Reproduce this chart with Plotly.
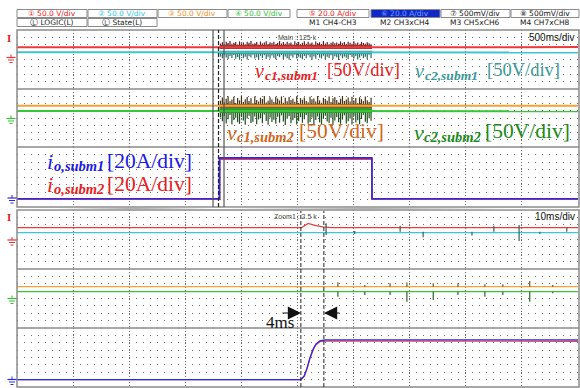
import plotly.graph_objects as go

W, H = 580, 388

# ---------------- data ----------------
main_t_range = [0.0, 5.0]      # s  (500 ms/div, 10 div)
zoom_t_range = [0.0, 100.0]    # ms (10 ms/div, 10 div)
volt_range = [-200, 200]       # 50 V/div
amp_range = [-20, 140]         # 20 A/div

# main window (500 ms/div)
main_level_t = [0.0, 5.0]
vc1_subm1_main = [83, 84]
vc2_subm1_main = [49, 48]
vc1_subm2_main = [85, 85]
vc2_subm2_main = [48, 47]

io_main_t = [0.0, 1.805, 1.806, 3.163, 3.164, 5.0]
io_subm1_main = [2, 2, 111, 111, 2, 2]
io_subm2_main = [1, 1, 108, 108, 1, 1]

burst_t = [1.805, 3.164]
vc1_subm1_band = [71, 98]
vc2_subm1_band = [37, 60]
vc1_subm2_band = [69, 97]
vc2_subm2_band = [34, 69]

vc1_subm1_peaks = [108, 117, 103, 121, 112, 125, 106, 114, 119, 102, 123, 110, 116, 104, 120, 113,
                   126, 107, 111, 118, 101, 122, 109, 115, 124, 105, 117, 112, 120, 103, 114, 125,
                   108, 119, 106, 121, 111, 116, 102, 123, 110, 118, 104, 113, 124, 107, 120, 109,
                   115, 101, 122, 112, 117, 105, 125, 108, 119, 103, 114, 121, 110, 116, 106, 123,
                   111, 118, 104, 120, 113, 107, 124, 109, 115, 102, 119, 112, 106, 117, 110, 103]
vc2_subm1_peaks = [20, 8, 28, 14, 2, 24, 11, 31, 5, 17, -2, 26, 9, 19, 0, 22, 13, 33, 6, 15,
                   -3, 25, 10, 29, 3, 18, 7, 27, 12, 1, 23, 16, 30, 4, 21, 8, -1, 26, 14, 32,
                   6, 19, 11, 2, 24, 9, 28, 15, -2, 20, 5, 31, 13, 7, 25, 1, 18, 10, 29, 3,
                   22, 16, -3, 27, 8, 20, 12, 4, 30, 17, 6, 23, 0, 14, 26, 9, 19, 2, 33, 11]
vc1_subm2_peaks = [120, 141, 108, 133, 150, 115, 127, 146, 104, 138, 122, 152, 111, 130, 144, 117,
                   136, 102, 148, 125, 113, 140, 131, 151, 107, 119, 143, 128, 110, 147, 134, 121,
                   149, 106, 139, 116, 145, 124, 132, 112, 150, 103, 137, 126, 142, 118, 109, 146,
                   129, 135, 114, 151, 122, 105, 140, 131, 119, 148, 111, 136, 144, 125, 107, 133,
                   152, 117, 128, 141, 113, 147, 121, 138, 104, 143, 130, 116, 149, 123, 110, 139]
vc2_subm2_peaks = [5, -22, 14, -38, -8, 20, -45, -14, 2, -30, -41, 9, -18, -47, -4, 16, -34, -26,
                   11, -43, -10, -2, -36, 24, -20, -46, 4, -28, -12, -40, 8, -32, 18, -24, -48, -6,
                   12, -37, -16, 0, -44, -21, 6, -33, -9, 21, -39, -27, 3, -46, -13, 10, -30, -42,
                   -5, 15, -24, -35, 1, -47, -17, 7, -29, -40, -11, 19, -38, -23, -3, -45, 13, -31,
                   -15, -43, -7, 22, -26, -36, -1, -19]

zoom_box_t = [1.747, 1.796, 1.845]

# zoom window (10 ms/div)
vc1_subm1_zoom_t = [0, 50.7, 51.9, 53.1, 54.5, 56.0, 100]
vc1_subm1_zoom = [80, 80, 109, 95, 86, 80, 80]
vc2_subm1_zoom_t = [0, 100]
vc2_subm1_zoom = [46, 46]
vc1_subm2_zoom_t = [0, 50.7, 53.0, 55.0, 100]
vc1_subm2_zoom = [80, 80, 75, 80, 80]
vc2_subm2_zoom_t = [0, 100]
vc2_subm2_zoom = [46, 46]

subm1_spike_t = [55.1, 60.2, 68.3, 72.4, 81.1, 85.0, 89.5, 93.2, 98.0]
subm1_spike_hi = [110, 58, 94, 53, 53, 94, 98, 53, 80]
subm1_spike_lo = [30, 37, 53, 15, 27, 53, -10, 37, 53]
subm2_spike_t = [57.2, 62.0, 66.5, 69.5, 74.2, 78.6, 83.4, 86.6, 91.4, 95.5]
subm2_spike_hi = [110, 92, 103, 108, 103, 103, 96, 96, 119, 92]
subm2_spike_lo = [12, 24, 24, -22, -10, 24, 12, 24, -22, 35]

io_zoom_t = [0, 50.6, 51.2, 51.7, 52.2, 52.8, 53.3, 54.0, 54.9, 100]
io_subm1_zoom = [0, 0, 10, 31, 58, 83, 97, 105, 108, 108]
io_subm2_zoom = [0, 0, 9, 30, 57, 82, 95, 103, 105, 104]

cursor_t = [50.6, 54.7]

# ---------------- styling ----------------
RED = "#ee3a3a"
CYAN = "#3cc6d0"
ORANGE = "#f5a234"
GREEN = "#34c834"
BLUE = "#2a2ae6"
IRED = "#e8405a"
FRAME = "#8a8a8a"
GRID = "#6a6a6a"

panels_px = [(30, 89), (89, 147), (147, 207), (210, 269), (269, 328), (328, 387)]
X0, X1 = 17, 578


def px(x):
    return x / W


def py(y):
    return 1 - y / H


fig = go.Figure()
layout = dict(width=W, height=H, margin=dict(l=0, r=0, t=0, b=0),
              paper_bgcolor="white", plot_bgcolor="white", showlegend=False)

for i, (top, bot) in enumerate(panels_px):
    n = i + 1
    main = i < 3
    cur = i in (2, 5)
    xa = dict(domain=[px(X0), px(X1)], range=main_t_range if main else zoom_t_range,
              anchor=f"y{n}", showticklabels=False, ticks="", zeroline=False,
              showgrid=True, gridcolor=GRID, gridwidth=1, griddash="1px,2px",
              tick0=0, dtick=0.5 if main else 10, showline=False, fixedrange=True)
    ya = dict(domain=[py(bot), py(top)], range=amp_range if cur else volt_range,
              anchor=f"x{n}", showticklabels=False, ticks="", zeroline=False,
              showgrid=True, gridcolor=GRID, gridwidth=1, griddash="1px,6px",
              tick0=amp_range[0] if cur else volt_range[0], dtick=20 if cur else 50,
              showline=False, fixedrange=True)
    layout["xaxis" if n == 1 else f"xaxis{n}"] = xa
    layout["yaxis" if n == 1 else f"yaxis{n}"] = ya


def add(x, y, color, width, n, fill=None, fillcolor=None):
    fig.add_trace(go.Scatter(x=x, y=y, mode="lines", line=dict(color=color, width=width),
                             xaxis="x" if n == 1 else f"x{n}", yaxis="y" if n == 1 else f"y{n}",
                             fill=fill, fillcolor=fillcolor, hoverinfo="skip",
                             connectgaps=False))


def band(lims, n, color):
    add([burst_t[0], burst_t[1], burst_t[1], burst_t[0], burst_t[0]],
        [lims[0], lims[0], lims[1], lims[1], lims[0]], color, 0, n, fill="toself", fillcolor=color)


def spikes(peaks, base, n, color, width=1):
    k = len(peaks)
    dt = (burst_t[1] - burst_t[0]) / k
    xs, ys = [], []
    for j, p in enumerate(peaks):
        t = burst_t[0] + (j + 0.5) * dt
        xs += [t, t, None]
        ys += [base, p, None]
    add(xs, ys, color, width, n)


# ---- main window traces ----
band(vc1_subm1_band, 1, "#a83232")
band(vc2_subm1_band, 1, "#3a8e8a")
spikes(vc1_subm1_peaks, vc1_subm1_band[1], 1, "#5a1e1e", 1.2)
spikes(vc2_subm1_peaks, vc2_subm1_band[0], 1, "#2a6a60", 1.2)
add(main_level_t, vc2_subm1_main, CYAN, 2, 1)
add(main_level_t, vc1_subm1_main, RED, 2, 1)

band(vc1_subm2_band, 2, "#8a5a28")
band(vc2_subm2_band, 2, "#2c9a2c")
spikes(vc1_subm2_peaks, vc1_subm2_band[1], 2, "#46300f", 1.2)
spikes(vc2_subm2_peaks, vc2_subm2_band[0], 2, "#1e4e1e", 1.2)
add(main_level_t, vc2_subm2_main, GREEN, 2, 2)
add(main_level_t, vc1_subm2_main, ORANGE, 2, 2)

add(io_main_t, io_subm2_main, IRED, 1.8, 3)
add(io_main_t, io_subm1_main, BLUE, 1.6, 3)

# ---- zoom window traces ----
add(vc1_subm1_zoom_t, vc1_subm1_zoom, RED, 1.3, 4)
add(vc2_subm1_zoom_t, vc2_subm1_zoom, CYAN, 1.3, 4)
sx, sy = [], []
for t, hi, lo in zip(subm1_spike_t, subm1_spike_hi, subm1_spike_lo):
    sx += [t, t, None]
    sy += [hi, lo, None]
add(sx, sy, "#2a6464", 1.2, 4)

add(vc1_subm2_zoom_t, vc1_subm2_zoom, ORANGE, 1.3, 5)
add(vc2_subm2_zoom_t, vc2_subm2_zoom, GREEN, 1.3, 5)
ox, oy, gx, gy = [], [], [], []
for t, hi, lo in zip(subm2_spike_t, subm2_spike_hi, subm2_spike_lo):
    ox += [t, t, None]
    oy += [80, hi, None]
    gx += [t, t, None]
    gy += [46, lo, None]
add(ox, oy, "#7a5418", 1.2, 5)
add(gx, gy, "#2a6a2a", 1.2, 5)

add(io_zoom_t, io_subm2_zoom, IRED, 1.4, 6)
add(io_zoom_t, io_subm1_zoom, BLUE, 1.2, 6)

# ---------------- shapes ----------------
shapes = []


def pline(x0, y0, x1, y1, color=FRAME, width=1.5, dash="solid"):
    shapes.append(dict(type="line", xref="paper", yref="paper", x0=px(x0), y0=py(y0),
                       x1=px(x1), y1=py(y1), line=dict(color=color, width=width, dash=dash)))


def prect(x0, y0, x1, y1, color, width=1, fill="rgba(0,0,0,0)"):
    shapes.append(dict(type="rect", xref="paper", yref="paper", x0=px(x0), x1=px(x1),
                       y0=py(y1), y1=py(y0), line=dict(color=color, width=width), fillcolor=fill,
                       layer="below"))


# header capsules
hdr_boxes = [(17, 87), (88, 157), (158, 227), (228, 290), (297, 369), (371, 440), (441, 510), (511, 579)]
for j, (a, b) in enumerate(hdr_boxes):
    prect(a, 9.5, b, 17.5, "#8a8a8a", 1, "#1028c8" if j == 5 else "rgba(0,0,0,0)")
for a, b in [(17, 87), (88, 157)]:
    prect(a, 18.5, b, 26.5, "#8a8a8a", 1)

# frames
for (t0, b0) in [(30, 207), (210, 387)]:
    shapes.append(dict(type="rect", xref="paper", yref="paper", x0=px(X0), x1=px(X1 + 1),
                       y0=py(b0), y1=py(t0), line=dict(color=FRAME, width=1.5)))
for y in (89, 147, 269, 328):
    pline(X0, y, X1 + 1, y)
# zoom connector lines
pline(X0, 210, 213, 207.5, color="#b0b0b0", width=1)
pline(223, 207.5, X1, 210, color="#b0b0b0", width=1)

# zoom box in main window
for t, dash, col in [(zoom_box_t[0], "solid", "#555555"), (zoom_box_t[2], "solid", "#555555"),
                     (zoom_box_t[1], "4px,2px", "#222222")]:
    shapes.append(dict(type="line", xref="x", yref="paper", x0=t, x1=t, y0=py(207), y1=py(30),
                       line=dict(color=col, width=1.2, dash=dash)))
# cursors in zoom window
for t in cursor_t:
    shapes.append(dict(type="line", xref="x4", yref="paper", x0=t, x1=t, y0=py(387), y1=py(211),
                       line=dict(color="#222222", width=1, dash="4px,2px")))


def ground(x, y, color):
    pline(x, y - 3, x, y, color, 1)
    pline(x - 4.5, y, x + 4.5, y, color, 1.2)
    pline(x - 3, y + 2.5, x + 3, y + 2.5, color, 1)
    pline(x - 1.5, y + 5, x + 1.5, y + 5, color, 1)


ground(11, 57.5, "#e83030")
ground(11, 118.5, "#30c030")
ground(12, 198, "#2a2ae6")
ground(12, 240, "#e83030")
ground(12, 298.5, "#30c030")
ground(12, 379.5, "#2a2ae6")

layout["shapes"] = shapes

# ---------------- annotations ----------------
ann = []


def text(x, y, s, size, color, family="Liberation Sans", xanchor="left", **kw):
    ann.append(dict(x=px(x), y=py(y), xref="paper", yref="paper", text=s, showarrow=False,
                    xanchor=xanchor, yanchor="middle", font=dict(size=size, color=color, family=family),
                    **kw))


# header texts
hdr1 = [(52, "① 50.0 V/div", "#e82020"), (122, "② 50.0 V/div", "#30c8e0"),
        (192, "③ 50.0 V/div", "#f59020"), (259, "④ 50.0 V/div", "#30c030"),
        (333, "⑤ 20.0 A/div", "#e82020"), (405, "⑥ 20.0 A/div", "#6fa0ff"),
        (475, "⑦ 500mV/div", "#111111"), (545, "⑧ 500mV/div", "#111111")]
for x, s, c in hdr1:
    text(x, 13.5, s, 7.5, c, family="DejaVu Sans", xanchor="center")
hdr2 = [(52, "Ⓛ LOGIC(L)"), (122, "Ⓛ State(L)"), (333, "M1 CH4-CH3"), (405, "M2 CH3xCH4"),
        (475, "M3 CH5xCH6"), (545, "M4 CH7xCH8")]
for x, s in hdr2:
    text(x, 22.5, s, 7.5, "#222222", family="DejaVu Sans", xanchor="center")

text(276, 37.5, "Main : 125 k", 7, "#444444")
text(577, 37.5, "500ms/div", 10, "#111111", xanchor="right")
text(272, 216.5, "Zoom1 : 2.5 k", 7, "#444444")
text(577, 216.5, "10ms/div", 10, "#111111", xanchor="right")

SER = "Liberation Serif"
# (x of symbol, y, symbol, subscript, x of bracket, colour, size of symbol, size of sub, size of bracket)
math_labels = [
    (253, 71, "v", "c1,subm1", 325, "#e82020", 20, 13.5, 18.5),
    (413, 71, "v", "c2,subm1", 485, "#3a9898", 20, 13.5, 18.5),
    (225, 132, "v", "c1,subm2", 297, "#d0661c", 22, 14.5, 21.5),
    (412, 132, "v", "c2,subm2", 483, "#1a8a1a", 22, 14.5, 21.5),
    (45, 161.5, "i", "o,subm1", 105, "#1a1ae6", 22, 14.5, 21.5),
    (45, 184.5, "i", "o,subm2", 105, "#e82020", 22, 14.5, 21.5),
]
bracket_text = {"v": "[50V/div]", "i": "[20A/div]"}
for x, y, sym, sub, xb, col, s1, s2, s3 in math_labels:
    text(x, y, f"<i>{sym}</i>", s1, col, family=SER)
    text(x + (10 if sym == "v" else 7), y + 4.5, f"<b><i>{sub}</i></b>", s2, col, family=SER)
    text(xb, y - 1, bracket_text[sym], s3, col, family=SER)

text(264, 322, "4ms", 17, "#111111", family=SER)

# trigger markers
text(9, 38, "<b>I</b>", 11, "#e02020", family=SER, xanchor="center")
text(9, 217, "<b>I</b>", 11, "#e02020", family=SER, xanchor="center")

# measurement arrows
for tip, tail in [(301, 281), (324, 341)]:
    ann.append(dict(x=px(tip), y=py(313), xref="paper", yref="paper", ax=tail - tip, ay=0,
                    axref="pixel", ayref="pixel", text="", showarrow=True, arrowhead=2,
                    arrowsize=2.2, arrowwidth=1.2, arrowcolor="#111111", standoff=0))

layout["annotations"] = ann
fig.update_layout(**layout)
fig.write_html("out.html")
